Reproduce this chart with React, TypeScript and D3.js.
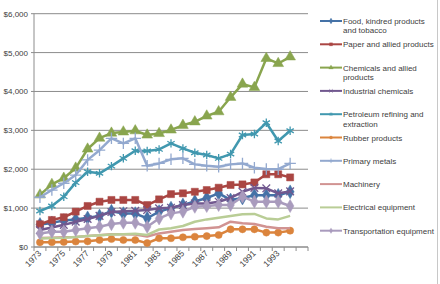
import React from 'react';
import * as d3 from 'd3';

// categories (last slot is an empty category as in the source)
const years = [
  1973, 1974, 1975, 1976, 1977, 1978, 1979, 1980, 1981, 1982, 1983,
  1984, 1985, 1986, 1987, 1988, 1989, 1990, 1991, 1992, 1993, 1994,
];
const slots = 23;

const yTicks = [0, 1000, 2000, 3000, 4000, 5000, 6000];

const names = [
  'Food, kindred products\nand tobacco',
  'Paper and allied products',
  'Chemicals and allied\nproducts',
  'Industrial chemicals',
  'Petroleum refining and\nextraction',
  'Rubber products',
  'Primary metals',
  'Machinery',
  'Electrical equipment',
  'Transportation equipment',
];

const food = [580, 620, 680, 710, 750, 800, 920, 860, 860, 740, 910, 1000, 1080, 1170, 1260, 1380, 1210, 1260, 1330, 1330, 1330, 1420];
const paper = [585, 695, 765, 910, 1055, 1165, 1210, 1210, 1210, 1080, 1225, 1360, 1380, 1420, 1465, 1525, 1595, 1610, 1660, 1870, 1870, 1790];
const chemicals = [1340, 1610, 1770, 2030, 2520, 2800, 2930, 2960, 2990, 2880, 2920, 3010, 3130, 3220, 3370, 3480, 3850, 4190, 4105, 4850, 4720, 4890];
const industrial = [437, 500, 570, 650, 720, 800, 900, 920, 930, 950, 995, 1010, 1080, 1120, 1120, 1165, 1260, 1420, 1520, 1510, 1380, 1430];
const petroleum = [925, 1055, 1295, 1655, 1935, 1895, 2080, 2280, 2475, 2470, 2510, 2665, 2535, 2425, 2365, 2280, 2390, 2880, 2905, 3195, 2725, 2990];
const rubber = [120, 125, 130, 140, 145, 180, 205, 180, 180, 100, 225, 225, 250, 265, 280, 310, 455, 455, 455, 370, 370, 420];
const primaryMetals = [1280, 1465, 1640, 1850, 2240, 2490, 2795, 2665, 2795, 2090, 2150, 2255, 2280, 2125, 2090, 2065, 2125, 2150, 2040, 2005, 2000, 2150];
const machinery = [230, 240, 250, 260, 280, 300, 330, 330, 320, 270, 350, 395, 437, 460, 480, 505, 650, 610, 590, 520, 480, 480];
const electrical = [220, 230, 240, 260, 280, 300, 320, 330, 340, 310, 450, 480, 540, 650, 710, 755, 800, 840, 850, 735, 710, 800];
const transportation = [350, 395, 395, 437, 480, 520, 590, 625, 625, 520, 735, 865, 910, 1035, 1055, 1080, 1080, 1295, 1165, 1165, 1165, 1055];

const seriesValues = [food, paper, chemicals, industrial, petroleum, rubber, primaryMetals, machinery, electrical, transportation];

const colors = ['#4572A7', '#AA4643', '#89A54E', '#71588F', '#4198AF', '#DB843D', '#93A9CF', '#D19392', '#B9CD96', '#A99BBD'];
const markers: (d3.SymbolType | null)[] = [
  d3.symbolDiamond, d3.symbolSquare, d3.symbolTriangle, d3.symbolX, d3.symbolAsterisk,
  d3.symbolCircle, d3.symbolPlus, null, null, d3.symbolDiamond,
];
const strokeMarker = [false, false, false, true, true, false, true, false, false, false];
const markerSize = [55, 50, 50, 40, 50, 40, 45, 0, 0, 50];

const W = 440;
const H = 284;
const plot = { left: 34, right: 308, top: 13.7, bottom: 247 };
const font = 'Liberation Sans, Arial, sans-serif';
const textColor = '#404040';

const App = () => {
  const x = d3.scaleLinear().domain([-0.5, slots - 0.5]).range([plot.left, plot.right]);
  const y = d3.scaleLinear().domain([0, 6000]).range([plot.bottom, plot.top]);
  const line = d3
    .line<number>()
    .x((_, i) => x(i))
    .y((d) => y(d));
  const fmt = d3.format('$,');

  return (
    <svg width={W} height={H} style={{ position: 'absolute', left: 0, top: 0, background: '#fff' }}>
      {/* gridlines + y labels */}
      {yTicks.map((t) => (
        <g key={t}>
          <line x1={plot.left - 3} x2={plot.right} y1={y(t)} y2={y(t)} stroke="#8c8c8c" strokeWidth={1} />
          <text x={28} y={y(t) + 3} textAnchor="end" fontSize={8} fontFamily={font} fill={textColor}>
            {fmt(t)}
          </text>
        </g>
      ))}
      <line x1={plot.left} x2={plot.left} y1={plot.top} y2={plot.bottom} stroke="#8c8c8c" />
      <line x1={plot.left} x2={plot.right} y1={plot.bottom} y2={plot.bottom} stroke="#8c8c8c" />
      {d3.range(slots + 1).map((i) => (
        <line key={i} x1={x(i - 0.5)} x2={x(i - 0.5)} y1={plot.bottom} y2={plot.bottom + 4} stroke="#8c8c8c" />
      ))}
      {years.map((yr, i) =>
        i % 2 === 0 ? (
          <text
            key={yr}
            transform={`translate(${x(i) + 2},${plot.bottom + 7}) rotate(-45)`}
            textAnchor="end"
            fontSize={8.5}
            fontFamily={font}
            fill={textColor}
          >
            {yr}
          </text>
        ) : null
      )}

      {/* series */}
      {seriesValues.map((vals, s) => (
        <g key={s}>
          <path d={line(vals) ?? ''} fill="none" stroke={colors[s]} strokeWidth={2.5} strokeLinejoin="round" />
          {markers[s] &&
            vals.map((v, i) => (
              <path
                key={i}
                transform={`translate(${x(i)},${y(v)})`}
                d={d3.symbol(markers[s] as d3.SymbolType, markerSize[s])() ?? ''}
                fill={strokeMarker[s] ? 'none' : colors[s]}
                stroke={colors[s]}
                strokeWidth={strokeMarker[s] ? 1.3 : 0.5}
              />
            ))}
        </g>
      ))}

      {/* legend */}
      {names.map((n, s) => {
        const cy = 21 + s * 23.3;
        return (
          <g key={n}>
            <line x1={320} x2={342} y1={cy} y2={cy} stroke={colors[s]} strokeWidth={2} />
            {markers[s] && (
              <path
                transform={`translate(331,${cy})`}
                d={d3.symbol(markers[s] as d3.SymbolType, markerSize[s] * 0.18)() ?? ''}
                fill={strokeMarker[s] ? 'none' : colors[s]}
                stroke={colors[s]}
                strokeWidth={strokeMarker[s] ? 0.8 : 0.3}
              />
            )}
            {n.split('\n').map((ln, k) => (
              <text key={k} x={343} y={cy + 3 + k * 9.3} fontSize={8} fontFamily={font} fill={textColor}>
                {ln}
              </text>
            ))}
          </g>
        );
      })}
      <line x1={437.5} x2={437.5} y1={0} y2={H} stroke="#c8c8c8" />
    </svg>
  );
};

export default App;
